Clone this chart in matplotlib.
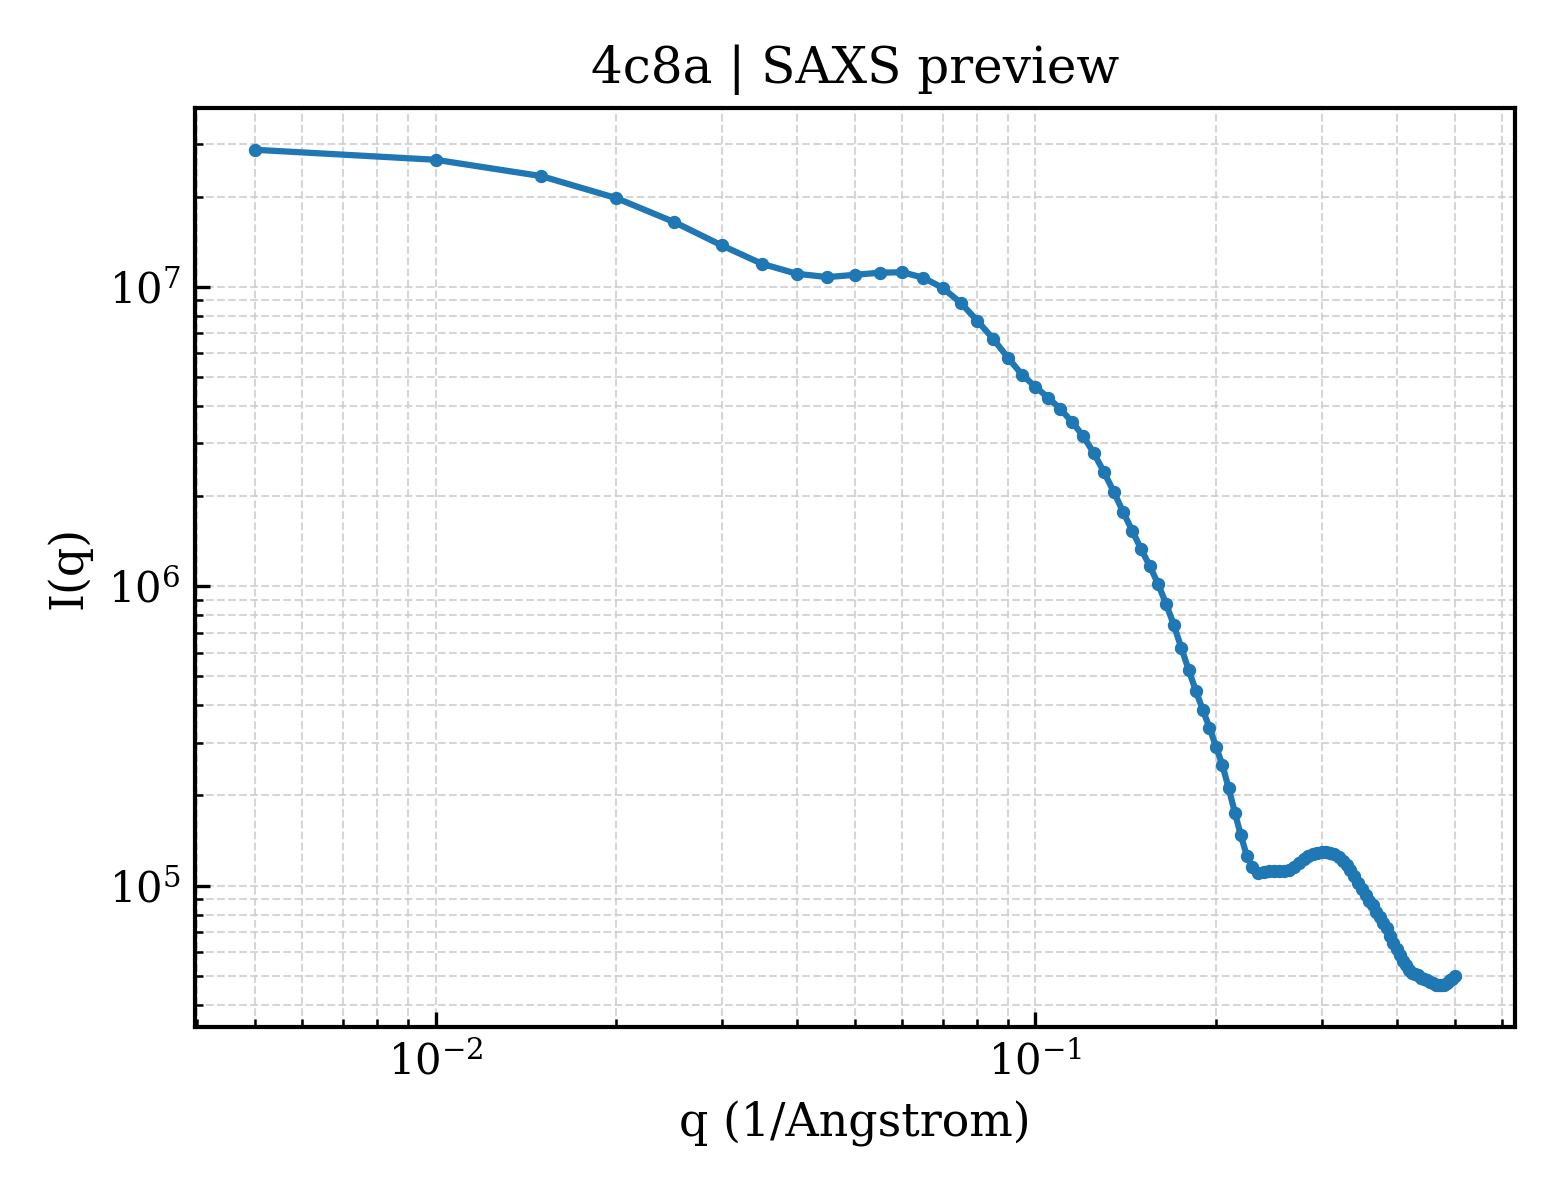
import numpy as np
import matplotlib
matplotlib.use("Agg")
import matplotlib.pyplot as plt

plt.rcParams['font.family'] = ['DejaVu Serif']

# q grid, 0.005 .. 0.5 in steps of 0.005 (1/Angstrom)
q = [0.005, 0.010, 0.015, 0.020, 0.025, 0.030, 0.035, 0.040, 0.045, 0.050,
     0.055, 0.060, 0.065, 0.070, 0.075, 0.080, 0.085, 0.090, 0.095, 0.100,
     0.105, 0.110, 0.115, 0.120, 0.125, 0.130, 0.135, 0.140, 0.145, 0.150,
     0.155, 0.160, 0.165, 0.170, 0.175, 0.180, 0.185, 0.190, 0.195, 0.200,
     0.205, 0.210, 0.215, 0.220, 0.225, 0.230, 0.235, 0.240, 0.245, 0.250,
     0.255, 0.260, 0.265, 0.270, 0.275, 0.280, 0.285, 0.290, 0.295, 0.300,
     0.305, 0.310, 0.315, 0.320, 0.325, 0.330, 0.335, 0.340, 0.345, 0.350,
     0.355, 0.360, 0.365, 0.370, 0.375, 0.380, 0.385, 0.390, 0.395, 0.400,
     0.405, 0.410, 0.415, 0.420, 0.425, 0.430, 0.435, 0.440, 0.445, 0.450,
     0.455, 0.460, 0.465, 0.470, 0.475, 0.480, 0.485, 0.490, 0.495, 0.500]

intensity = [2.867e7, 2.655e7, 2.342e7, 1.978e7, 1.644e7, 1.374e7, 1.193e7, 1.105e7, 1.077e7, 1.096e7,
             1.114e7, 1.118e7, 1.072e7, 9.92e6, 8.85e6, 7.70e6, 6.70e6, 5.79e6, 5.08e6, 4.63e6,
             4.26e6, 3.91e6, 3.54e6, 3.18e6, 2.79e6, 2.41e6, 2.07e6, 1.77e6, 1.53e6, 1.33e6,
             1.17e6, 1.02e6, 8.75e5, 7.44e5, 6.23e5, 5.26e5, 4.48e5, 3.87e5, 3.37e5, 2.91e5,
             2.52e5, 2.11e5, 1.75e5, 1.47e5, 1.26e5, 1.15e5, 1.105e5, 1.114e5, 1.122e5, 1.122e5,
             1.122e5, 1.122e5, 1.131e5, 1.157e5, 1.193e5, 1.231e5, 1.259e5, 1.279e5, 1.289e5, 1.299e5,
             1.299e5, 1.289e5, 1.279e5, 1.250e5, 1.212e5, 1.175e5, 1.131e5, 1.080e5, 1.023e5, 9.77e4,
             9.33e4, 8.91e4, 8.58e4, 8.19e4, 7.88e4, 7.52e4, 7.19e4, 6.81e4, 6.45e4, 6.16e4,
             5.88e4, 5.62e4, 5.41e4, 5.24e4, 5.12e4, 5.05e4, 5.01e4, 4.93e4, 4.89e4, 4.82e4,
             4.78e4, 4.71e4, 4.67e4, 4.64e4, 4.64e4, 4.67e4, 4.74e4, 4.82e4, 4.89e4, 4.97e4]

fig, ax = plt.subplots(figsize=(5.2, 4), dpi=300)
fig.subplots_adjust(left=0.125, right=0.971, top=0.91, bottom=0.144)

ax.plot(q, intensity, '-o', color='#1f77b4', lw=1.5, ms=2.2)
ax.set_xscale('log')
ax.set_yscale('log')

ax.set_title('4c8a | SAXS preview', fontsize=12)
ax.set_xlabel('q (1/Angstrom)', fontsize=11)
ax.set_ylabel('I(q)', fontsize=11)

ax.grid(True, which='both', linestyle='--', linewidth=0.5, color='#cccccc', alpha=0.8)
ax.tick_params(which='both', direction='in', labelsize=10)
for s in ax.spines.values():
    s.set_linewidth(1.0)

fig.savefig('out.png', dpi=300)
